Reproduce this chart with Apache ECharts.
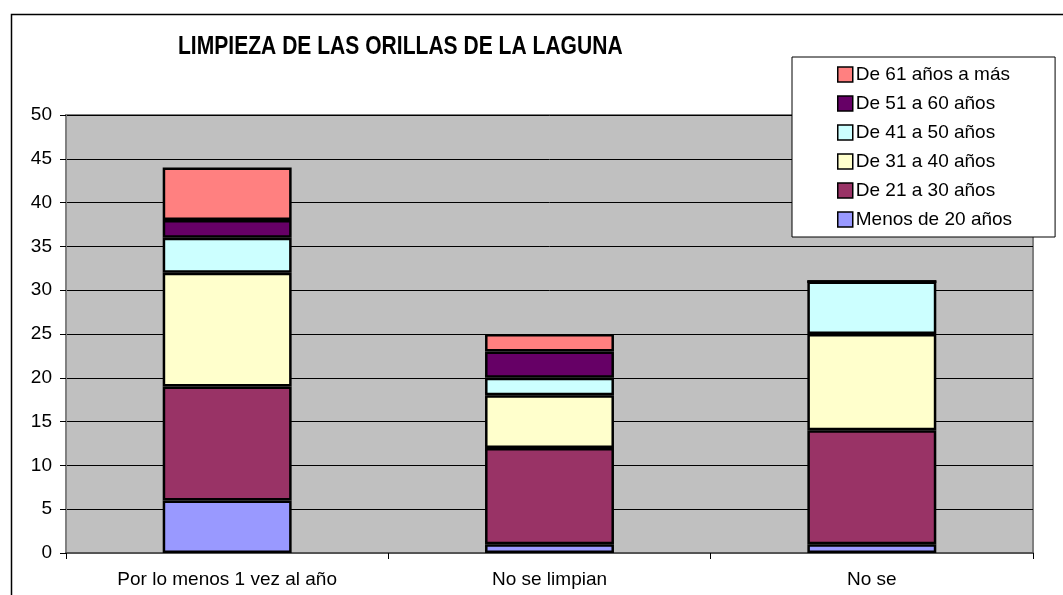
<!DOCTYPE html>
<html>
<head>
<meta charset="utf-8">
<script src="https://cdn.jsdelivr.net/npm/echarts@6/dist/echarts.min.js"></script>
<style>
  html, body { margin: 0; padding: 0; background: #fff; }
  #chart { width: 1063px; height: 595px; }
</style>
</head>
<body>
<div id="chart"></div>
<script>
const categories = ['Por lo menos 1 vez al año', 'No se limpian', 'No se'];
const yTicks = { min: 0, max: 50, interval: 5 };

const menos20 = [6, 1, 1];
const de21a30 = [13, 11, 13];
const de31a40 = [13, 6, 11];
const de41a50 = [4, 2, 6];
const de51a60 = [2, 3, 0];
const de61mas = [6, 2, 0];

const seriesNames = ['Menos de 20 años', 'De 21 a 30 años', 'De 31 a 40 años',
    'De 41 a 50 años', 'De 51 a 60 años', 'De 61 años a más'];
const seriesColors = ['#9999FF', '#993366', '#FFFFCC', '#CCFFFF', '#660066', '#FF8080'];
const seriesData = [menos20, de21a30, de31a40, de41a50, de51a60, de61mas];

const chartDom = document.getElementById('chart');
const myChart = echarts.init(chartDom);
const font = '"Liberation Sans", Arial, sans-serif';

const option = {
    animation: false,
    textStyle: { fontFamily: font },
    graphic: [
        {
            type: 'rect',
            left: 9,
            top: 12,
            shape: { width: 1100, height: 700 },
            style: { fill: 'none', stroke: '#000', lineWidth: 1.5 },
            silent: true
        },
        {
            // title, squeezed to match the narrow bold face of the original
            type: 'text',
            x: 178,
            y: 34,
            scaleX: 0.81,
            silent: true,
            style: {
                text: 'LIMPIEZA DE LAS ORILLAS DE LA LAGUNA',
                font: 'bold 26px "Liberation Sans", Arial, sans-serif',
                fill: '#000',
                textBaseline: 'top'
            }
        }
    ],
    legend: {
        orient: 'vertical',
        left: 792,
        top: 57,
        padding: [8, 43, 8, 45],
        itemWidth: 15,
        itemHeight: 15,
        itemGap: 10,
        icon: 'rect',
        backgroundColor: '#fff',
        borderColor: '#000',
        borderWidth: 1,
        z: 10,
        data: seriesNames.slice().reverse(),
        itemStyle: { borderColor: '#000', borderWidth: 1.5 },
        textStyle: { fontSize: 19, color: '#000', padding: [0, 0, 0, -2] }
    },
    grid: {
        left: 66,
        right: 30,
        top: 115,
        bottom: 42,
        show: true,
        backgroundColor: '#C0C0C0',
        borderColor: '#808080',
        borderWidth: 2
    },
    xAxis: {
        type: 'category',
        data: categories,
        axisLine: { show: true, lineStyle: { color: '#555', width: 2 } },
        axisTick: { show: true, alignWithLabel: false, length: 6, lineStyle: { color: '#000' } },
        axisLabel: { fontSize: 19, color: '#000', margin: 17 }
    },
    yAxis: {
        type: 'value',
        min: yTicks.min,
        max: yTicks.max,
        interval: yTicks.interval,
        axisLine: { show: true, lineStyle: { color: '#808080', width: 2 } },
        axisTick: { show: true, length: 6, lineStyle: { color: '#000' } },
        axisLabel: { fontSize: 19, color: '#000', margin: 14 },
        splitLine: { show: true, lineStyle: { color: '#000', width: 1 } }
    },
    series: seriesNames.map((name, i) => ({
        name: name,
        type: 'bar',
        stack: 'total',
        barWidth: '40%',
        data: seriesData[i],
        itemStyle: {
            color: seriesColors[i],
            borderColor: '#000',
            borderWidth: 2.5
        }
    }))
};

myChart.setOption(option);

window.addEventListener('resize', () => {
    myChart.resize();
});
</script>
</body>
</html>
